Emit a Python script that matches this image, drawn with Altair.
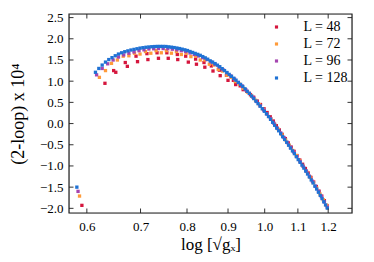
import altair as alt
import pandas as pd

series_names = ["L = 48", "L = 72", "L = 96", "L = 128"]
series_colors = ["#d5163d", "#ff9b3a", "#a545b0", "#1f72d4"]

x48 = [0.5915, 0.632, 0.648, 0.652, 0.670, 0.674, 0.691, 0.694, 0.713, 0.715, 0.734, 0.737,
       0.755, 0.758, 0.778, 0.779, 0.797, 0.803, 0.820, 0.822, 0.840, 0.842, 0.858, 0.862,
       0.878, 0.880, 0.896, 0.900, 0.914, 0.920, 0.932, 0.940, 0.950, 0.960, 0.969, 0.979,
       0.988, 0.998, 1.007, 1.016, 1.025, 1.034, 1.043, 1.052, 1.061, 1.070, 1.079, 1.088,
       1.097, 1.106, 1.115, 1.124, 1.133, 1.142, 1.151, 1.160, 1.169, 1.178, 1.187, 1.196]
y48 = [-1.93, 0.95, 1.25, 1.21, 1.44, 1.35, 1.59, 1.46, 1.65, 1.51, 1.67, 1.54,
       1.67, 1.54, 1.63, 1.51, 1.59, 1.45, 1.52, 1.40, 1.44, 1.33, 1.36, 1.24,
       1.26, 1.13, 1.14, 1.02, 1.02, 0.92, 0.89, 0.80, 0.76, 0.68, 0.62, 0.53,
       0.45, 0.35, 0.26, 0.16, 0.06, -0.05, -0.15, -0.255, -0.355, -0.455, -0.555, -0.655,
       -0.755, -0.86, -0.96, -1.06, -1.165, -1.27, -1.38, -1.485, -1.595, -1.71, -1.82, -1.935]

x72 = [0.5875, 0.622, 0.633, 0.644, 0.655, 0.666, 0.677, 0.688, 0.699, 0.710, 0.721, 0.732,
       0.743, 0.754, 0.765, 0.776, 0.787, 0.798, 0.809, 0.820, 0.831, 0.842, 0.853, 0.864,
       0.875, 0.886, 0.897, 0.908, 0.919, 0.930, 0.941, 0.952, 0.963, 0.974, 0.985, 0.996,
       1.007, 1.018, 1.029, 1.040, 1.051, 1.062, 1.073, 1.084, 1.095, 1.106, 1.117, 1.128,
       1.139, 1.150, 1.161, 1.172, 1.183, 1.194]
y72 = [-1.71, 1.09, 1.25, 1.42, 1.50, 1.59, 1.60, 1.66, 1.64, 1.70, 1.66, 1.72,
       1.67, 1.72, 1.66, 1.70, 1.63, 1.66, 1.58, 1.59, 1.50, 1.50, 1.40, 1.38,
       1.28, 1.24, 1.14, 1.09, 0.99, 0.93, 0.83, 0.74, 0.65, 0.55, 0.445, 0.335,
       0.23, 0.11, -0.015, -0.135, -0.26, -0.385, -0.51, -0.635, -0.755, -0.88, -1.005, -1.13,
       -1.26, -1.395, -1.52, -1.66, -1.795, -1.925]

x96 = [0.585, 0.617, 0.627, 0.637, 0.647, 0.657, 0.667, 0.677, 0.687, 0.697, 0.707, 0.717,
       0.727, 0.737, 0.747, 0.757, 0.767, 0.777, 0.787, 0.797, 0.807, 0.817, 0.827, 0.837,
       0.847, 0.857, 0.867, 0.877, 0.887, 0.897, 0.907, 0.917, 0.927, 0.937, 0.947, 0.957,
       0.967, 0.977, 0.987, 0.997, 1.007, 1.017, 1.027, 1.037, 1.047, 1.057, 1.067, 1.077,
       1.087, 1.097, 1.107, 1.117, 1.127, 1.137, 1.147, 1.157, 1.167, 1.177, 1.187, 1.197]
y96 = [-1.60, 1.15, 1.30, 1.41, 1.50, 1.57, 1.62, 1.66, 1.69, 1.72, 1.74, 1.76,
       1.765, 1.77, 1.77, 1.765, 1.755, 1.74, 1.72, 1.70, 1.665, 1.63, 1.595, 1.555,
       1.51, 1.455, 1.40, 1.34, 1.27, 1.20, 1.125, 1.05, 0.97, 0.89, 0.80, 0.715,
       0.62, 0.52, 0.42, 0.32, 0.225, 0.115, 0.005, -0.11, -0.22, -0.33, -0.445, -0.56,
       -0.67, -0.78, -0.895, -1.01, -1.12, -1.24, -1.36, -1.48, -1.60, -1.725, -1.85, -1.975]

x128 = [0.583, 0.615, 0.621, 0.627, 0.633, 0.639, 0.645, 0.651, 0.657, 0.663, 0.669,
        0.675, 0.681, 0.687, 0.693, 0.699, 0.705, 0.711, 0.717, 0.723, 0.729,
        0.735, 0.741, 0.747, 0.753, 0.759, 0.765, 0.771, 0.777, 0.783, 0.789,
        0.795, 0.801, 0.807, 0.813, 0.819, 0.825, 0.831, 0.837, 0.843, 0.849,
        0.855, 0.861, 0.867, 0.873, 0.879, 0.885, 0.891, 0.897, 0.903, 0.909,
        0.915, 0.921, 0.927, 0.933, 0.939, 0.945, 0.951, 0.957, 0.963, 0.969,
        0.975, 0.981, 0.987, 0.993, 0.999, 1.005, 1.011, 1.017, 1.023, 1.029,
        1.035, 1.041, 1.047, 1.053, 1.059, 1.065, 1.071, 1.077, 1.083, 1.089,
        1.095, 1.101, 1.107, 1.113, 1.119, 1.125, 1.131, 1.137, 1.143, 1.149,
        1.155, 1.161, 1.167, 1.173, 1.179, 1.185, 1.191, 1.197]
y128 = [-1.50, 1.21, 1.30, 1.38, 1.45, 1.51, 1.555, 1.60, 1.64, 1.67, 1.695,
        1.715, 1.735, 1.75, 1.765, 1.78, 1.79, 1.80, 1.807, 1.813, 1.817,
        1.82, 1.82, 1.82, 1.818, 1.81, 1.802, 1.793, 1.782, 1.77, 1.755,
        1.74, 1.723, 1.70, 1.678, 1.655, 1.633, 1.61, 1.58, 1.55, 1.518,
        1.48, 1.45, 1.415, 1.378, 1.34, 1.295, 1.25, 1.205, 1.16, 1.115,
        1.07, 1.023, 0.97, 0.925, 0.875, 0.82, 0.76, 0.71, 0.65, 0.59,
        0.53, 0.47, 0.41, 0.35, 0.29, 0.23, 0.165, 0.10, 0.03, -0.04,
        -0.105, -0.17, -0.24, -0.31, -0.375, -0.44, -0.51, -0.58, -0.645, -0.71,
        -0.78, -0.85, -0.915, -0.98, -1.05, -1.12, -1.19, -1.26, -1.33, -1.40,
        -1.475, -1.545, -1.62, -1.695, -1.77, -1.845, -1.92, -1.995]

x_ticks = [0.6, 0.7, 0.8, 0.9, 1.0, 1.1, 1.2]
y_ticks = [-2.0, -1.5, -1.0, -0.5, 0.0, 0.5, 1.0, 1.5, 2.0, 2.5]

rows = []
for name, xs, ys in zip(series_names, [x48, x72, x96, x128], [y48, y72, y96, y128]):
    for xv, yv in zip(xs, ys):
        rows.append({"x": xv, "y": yv, "series": name})
df = pd.DataFrame(rows)
xt_df = pd.DataFrame({"x": x_ticks})
yt_df = pd.DataFrame({"y": y_ticks})

W, H = 283, 199
FONT = "Liberation Serif"
TL = 4.5

xscale = alt.Scale(type="log", domain=[0.57, 1.285], nice=False, zero=False)
yscale = alt.Scale(domain=[-2.11, 2.585], nice=False, zero=False)

x_axis = alt.Axis(values=x_ticks, format=".1f", title="log [\u221Ag\u2093]",
                  domain=False, ticks=False, tickSize=0, grid=False,
                  labelOverlap=False, labelFlush=False,
                  labelPadding=7, labelFont=FONT, labelFontSize=13,
                  labelColor="#000", titleFont=FONT, titleFontSize=17,
                  titleFontWeight="normal", titleColor="#000",
                  titleY=31, titleBaseline="middle")
y_axis = alt.Axis(values=y_ticks, format=".1f", title="(2-loop) x 10\u2074",
                  domain=False, ticks=False, tickSize=0, grid=False,
                  labelOverlap=False, labelFlush=False,
                  labelPadding=6, labelFont=FONT, labelFontSize=13,
                  labelColor="#000", titleFont=FONT, titleFontSize=18,
                  titleFontWeight="normal", titleColor="#000",
                  titleX=-51, titleY=H / 2, titleBaseline="middle")

points = alt.Chart(df).mark_square(size=11, opacity=1).encode(
    x=alt.X("x:Q", scale=xscale, axis=x_axis),
    y=alt.Y("y:Q", scale=yscale, axis=y_axis),
    color=alt.Color("series:N",
                    scale=alt.Scale(domain=series_names, range=series_colors),
                    sort=series_names,
                    legend=alt.Legend(title=None, orient="none", legendX=200.5, legendY=6,
                                      symbolType="square", symbolSize=10, symbolStrokeWidth=0,
                                      labelFont=FONT, labelFontSize=14, labelColor="#000",
                                      labelOffset=20, rowPadding=3, padding=0)),
)

tick_color = "#333"
x_bottom = alt.Chart(xt_df).mark_rule(color=tick_color, strokeWidth=1).encode(
    x=alt.X("x:Q", scale=xscale, axis=x_axis), y=alt.value(H), y2=alt.value(H - TL))
x_top = alt.Chart(xt_df).mark_rule(color=tick_color, strokeWidth=1).encode(
    x=alt.X("x:Q", scale=xscale, axis=x_axis), y=alt.value(0), y2=alt.value(TL))
y_left = alt.Chart(yt_df).mark_rule(color=tick_color, strokeWidth=1).encode(
    y=alt.Y("y:Q", scale=yscale, axis=y_axis), x=alt.value(0), x2=alt.value(TL))
y_right = alt.Chart(yt_df).mark_rule(color=tick_color, strokeWidth=1).encode(
    y=alt.Y("y:Q", scale=yscale, axis=y_axis), x=alt.value(W - TL), x2=alt.value(W))
frame = alt.Chart(xt_df.head(1)).mark_rect(
    fillOpacity=0, stroke="#222", strokeWidth=1.2).encode(
    x=alt.value(0), x2=alt.value(W), y=alt.value(0), y2=alt.value(H))

chart = alt.layer(points, x_bottom, x_top, y_left, y_right, frame).properties(
    width=W, height=H,
    autosize=alt.AutoSizeParams(type="none"),
    padding={"left": 61, "top": 6, "right": 14, "bottom": 41},
).configure_view(stroke=None).configure(background="white")

chart.save("out.html", embed_options={"renderer": "svg", "actions": False})
